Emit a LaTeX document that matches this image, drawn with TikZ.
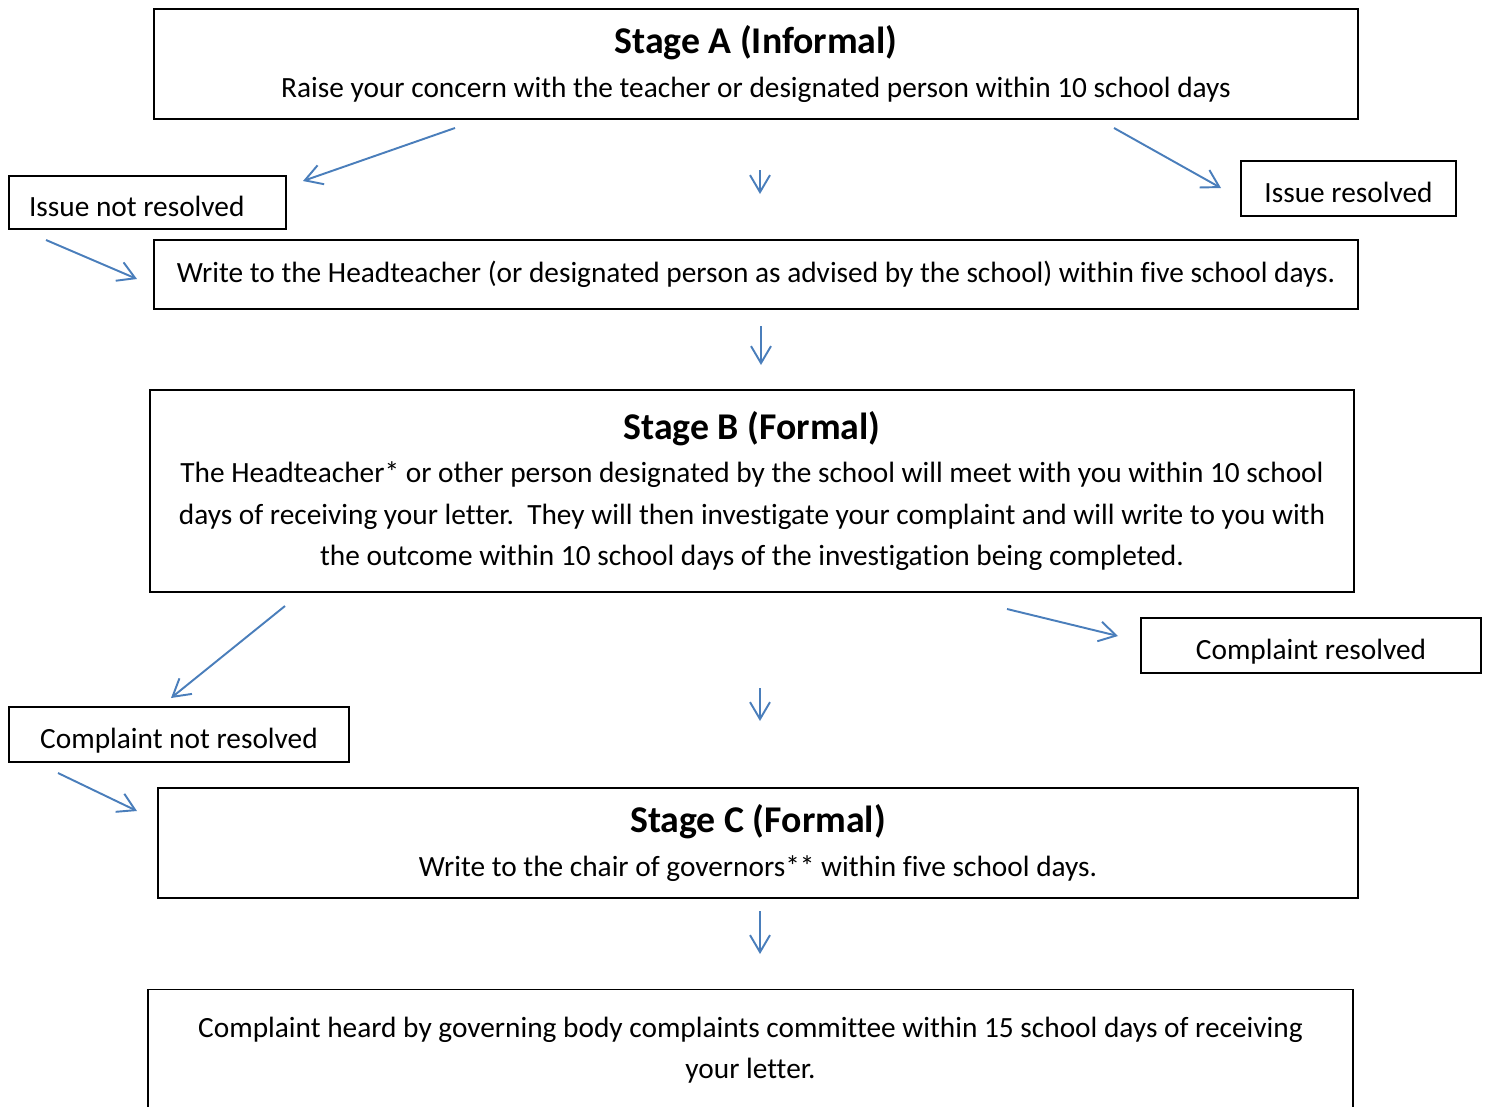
\documentclass[tikz,border=0pt]{standalone}
\usepackage{fontspec}
\setmainfont[Ligatures=NoCommon]{Carlito}
\usepackage{tikz}
\usetikzlibrary{arrows.meta,positioning}
\definecolor{arrowblue}{RGB}{74,126,187}
\tikzstyle{box}=[draw=black, line width=1.1pt, inner sep=0pt, align=center, font=\fontsize{16.7}{23.6}\selectfont]
\tikzstyle{tag}=[box, minimum height=1.1cm, text height=16pt, text depth=0pt]
\tikzstyle{flow}=[draw=arrowblue, line width=1.1pt, -{Straight Barb[length=3.4mm,width=4mm]}]
\newcommand{\stagefont}{\fontsize{21.5}{23.6}\selectfont\bfseries}

\begin{document}
\begin{tikzpicture}[x=0.02cm, y=-0.02cm]
	\useasboundingbox (0,0) rectangle (1488,1106);
	\clip (0,0) rectangle (1488,1106);
		\node[box, minimum width=24.08cm, minimum height=2.2cm] (stageA) at (756,64) {{\stagefont Stage A (Informal)}\\[2pt]Raise your concern with the teacher or designated person within 10 school days};
		\node[tag, minimum height=1.06cm, text width=4.74cm, inner xsep=0.4cm, align=flush left] (notres) at (147.5,202.5) {Issue not resolved};
		\node[tag, minimum width=4.3cm] (res) at (1348.5,188.5) {Issue resolved};
		\node[box, minimum width=24.08cm, minimum height=1.38cm] (write) at (756,274.5) {Write to the Headteacher (or designated person as advised by the school) within five school days.};
		\node[box, minimum width=24.08cm, minimum height=4.04cm] (stageB) at (752,491) {{\stagefont Stage B (Formal)}\\[1pt]The Headteacher* or other person designated by the school will meet with you within 10 school\\days of receiving your letter.\ \ They will then investigate your complaint and will write to you with\\the outcome within 10 school days of the investigation being completed.};
		\node[tag, minimum width=6.8cm] (cres) at (1311,645.5) {Complaint resolved};
		\node[tag, minimum width=6.8cm] (cnotres) at (179,734.5) {Complaint not resolved};
		\node[box, minimum width=24cm, minimum height=2.2cm] (stageC) at (758,843) {{\stagefont Stage C (Formal)}\\[2pt]Write to the chair of governors** within five school days.};
		\node[box, minimum width=24.1cm, minimum height=2.42cm] (panel) at (750.5,1050) {Complaint heard by governing body complaints committee within 15 school days of receiving\\your letter.};
		
		% free arrow ends
		\coordinate (a1) at (455,128); \coordinate (b1) at (303,181);
		\coordinate (a2) at (760,170); \coordinate (b2) at (760,194);
		\coordinate (a3) at (1114,128); \coordinate (b3) at (1221,188);
		\coordinate (a4) at (46,240); \coordinate (b4) at (137,279);
		\coordinate (a5) at (761,326); \coordinate (b5) at (761,365);
		\coordinate (a6) at (285,606); \coordinate (b6) at (171,698);
		\coordinate (a7) at (1007,609); \coordinate (b7) at (1118,636);
		\coordinate (a8) at (760,688); \coordinate (b8) at (760,721);
		\coordinate (a9) at (58,773); \coordinate (b9) at (137,811);
		\coordinate (a10) at (760,911); \coordinate (b10) at (760,954);
		
	\draw[flow](a1)--(b1);
	\draw[flow](a2)--(b2);
	\draw[flow](a3)--(b3);
	\draw[flow](a4)--(b4);
	\draw[flow](a5)--(b5);
	\draw[flow](a6)--(b6);
	\draw[flow](a7)--(b7);
	\draw[flow](a8)--(b8);
	\draw[flow](a9)--(b9);
	\draw[flow](a10)--(b10);
	\end{tikzpicture}
\end{document}
